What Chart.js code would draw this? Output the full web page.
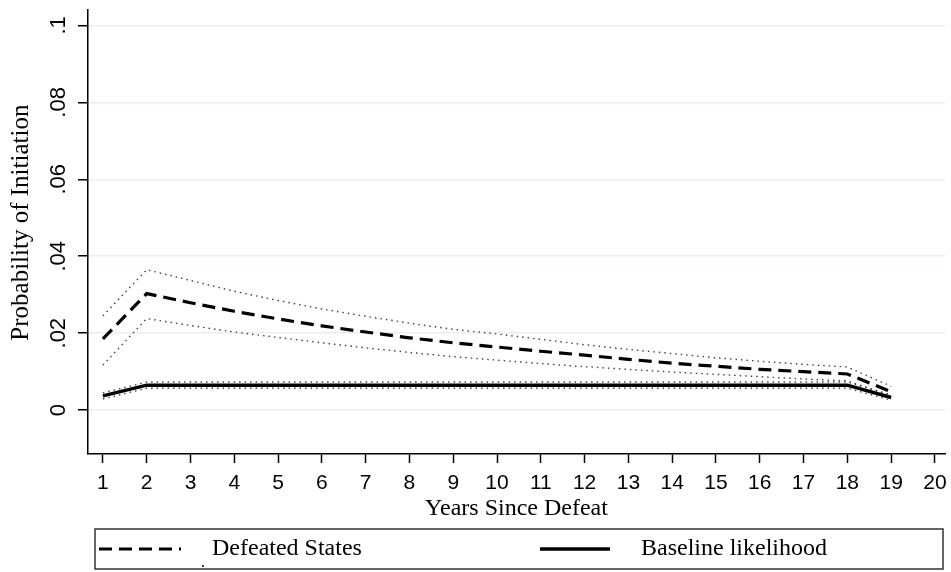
<!DOCTYPE html>
<html>
<head>
<meta charset="utf-8">
<script src="https://cdn.jsdelivr.net/npm/chart.js@4.4.1/dist/chart.umd.min.js"></script>
<style>
  html, body { margin: 0; padding: 0; background: #fff; }
  #wrap { width: 951px; height: 572px; }
</style>
</head>
<body>
<div id="wrap"><canvas id="chart" width="951" height="572"></canvas></div>
<script>
// Years since defeat (x values)
const years = [1, 2, 3, 4, 5, 6, 7, 8, 9, 10, 11, 12, 13, 14, 15, 16, 17, 18, 19];

// Predicted probability for defeated states, with its confidence band
const defeated      = [0.0185, 0.0303, 0.0279, 0.0257, 0.0237, 0.0219, 0.0203, 0.0188, 0.0175, 0.0164, 0.0153, 0.0143, 0.0132, 0.0122, 0.0114, 0.0106, 0.0100, 0.0094, 0.0048];
const defeatedUpper = [0.0245, 0.0365, 0.0337, 0.0309, 0.0285, 0.0263, 0.0244, 0.0226, 0.0210, 0.0198, 0.0184, 0.0170, 0.0158, 0.0147, 0.0136, 0.0127, 0.0119, 0.0112, 0.0062];
const defeatedLower = [0.0117, 0.0238, 0.0220, 0.0203, 0.0189, 0.0175, 0.0162, 0.0150, 0.0139, 0.0130, 0.0121, 0.0113, 0.0106, 0.0099, 0.0093, 0.0087, 0.0081, 0.0076, 0.0037];

// Baseline likelihood, with its confidence band
const baseline      = [0.0037, 0.0065, 0.0065, 0.0065, 0.0065, 0.0065, 0.0065, 0.0065, 0.0065, 0.0065, 0.0065, 0.0065, 0.0065, 0.0065, 0.0065, 0.0065, 0.0065, 0.0065, 0.0033];
const baselineUpper = [0.0045, 0.0073, 0.0073, 0.0073, 0.0073, 0.0073, 0.0073, 0.0073, 0.0073, 0.0073, 0.0073, 0.0073, 0.0073, 0.0073, 0.0073, 0.0073, 0.0073, 0.0073, 0.0040];
const baselineLower = [0.0029, 0.0057, 0.0057, 0.0057, 0.0057, 0.0057, 0.0057, 0.0057, 0.0057, 0.0057, 0.0057, 0.0057, 0.0057, 0.0057, 0.0057, 0.0057, 0.0057, 0.0057, 0.0026];

// Axis ticks
const xTicks = [1, 2, 3, 4, 5, 6, 7, 8, 9, 10, 11, 12, 13, 14, 15, 16, 17, 18, 19, 20];
const yTicks = [0, 0.02, 0.04, 0.06, 0.08, 0.1];
const yTickLabels = ['0', '.02', '.04', '.06', '.08', '.1'];

const sansFamily = "'Liberation Sans', Arial, sans-serif";
const serifFamily = "'Liberation Serif', 'Times New Roman', serif";
const serifFont = { family: serifFamily, size: 24 };

const toPoints = arr => arr.map((v, i) => ({ x: years[i], y: v }));

function ciLine(data) {
  return {
    data: toPoints(data),
    borderColor: '#444',
    borderWidth: 1.4,
    borderDash: [1.5, 4],
    pointRadius: 0,
    tension: 0,
    fill: false,
    order: 0,
    inLegend: false
  };
}

// Legend with a framed box, like the Stata one
const boxLegend = {
  id: 'boxLegend',
  afterDraw(chart) {
    const ctx = chart.ctx;
    ctx.save();
    ctx.strokeStyle = '#333';
    ctx.lineWidth = 1.5;
    ctx.strokeRect(95, 529, 848, 40);

    const items = chart.data.datasets.filter(d => d.inLegend);
    const slots = [{ x1: 99, x2: 181, tx: 212 }, { x1: 540, x2: 610, tx: 641 }];
    const yMid = 549;
    ctx.font = serifFont.size + 'px ' + serifFont.family;
    ctx.fillStyle = '#000';
    ctx.textBaseline = 'middle';
    items.forEach((d, i) => {
      const s = slots[i];
      ctx.beginPath();
      ctx.setLineDash(d.borderDash || []);
      ctx.lineWidth = d.borderWidth;
      ctx.strokeStyle = d.borderColor;
      ctx.moveTo(s.x1, yMid);
      ctx.lineTo(s.x2, yMid);
      ctx.stroke();
      ctx.setLineDash([]);
      ctx.fillText(d.label, s.tx, yMid);
    });
    // stray dot under the first label in the original
    ctx.font = '16px ' + serifFamily;
    ctx.fillText('.', 201, 563);
    ctx.restore();
  }
};

new Chart(document.getElementById('chart').getContext('2d'), {
  type: 'line',
  data: {
    datasets: [
      ciLine(defeatedUpper),
      ciLine(defeatedLower),
      ciLine(baselineUpper),
      ciLine(baselineLower),
      {
        label: 'Defeated States',
        data: toPoints(defeated),
        borderColor: '#000',
        borderWidth: 3.2,
        borderDash: [13, 7],
        pointRadius: 0,
        tension: 0,
        fill: false,
        order: 1,
        inLegend: true
      },
      {
        label: 'Baseline likelihood',
        data: toPoints(baseline),
        borderColor: '#000',
        borderWidth: 3.5,
        pointRadius: 0,
        tension: 0,
        fill: false,
        order: 1,
        inLegend: true
      }
    ]
  },
  options: {
    responsive: false,
    animation: false,
    devicePixelRatio: 1,
    layout: { padding: { top: 10, right: 6, bottom: 45, left: 0 } },
    plugins: {
      legend: { display: false },
      tooltip: { enabled: false }
    },
    scales: {
      x: {
        type: 'linear',
        min: 0.66,
        max: 20.23,
        afterBuildTicks: s => { s.ticks = xTicks.map(v => ({ value: v })); },
        afterFit: s => { s.height = 73; s.paddingLeft = 0; s.paddingRight = 0; },
        border: { color: '#000', width: 1.5 },
        grid: { drawOnChartArea: false, tickColor: '#000', tickLength: 9, tickWidth: 1.5 },
        ticks: {
          font: { family: sansFamily, size: 21 },
          color: '#000',
          padding: 8,
          maxRotation: 0,
          autoSkip: false,
          callback: (v, i) => String(xTicks[i])
        },
        title: {
          display: true,
          text: 'Years Since Defeat',
          font: serifFont,
          color: '#000',
          padding: { top: 0, bottom: 4 }
        }
      },
      y: {
        min: -0.0114,
        max: 0.104,
        afterBuildTicks: s => { s.ticks = yTicks.map(v => ({ value: v })); },
        afterFit: s => { s.width = 88; s.paddingTop = 0; s.paddingBottom = 0; },
        border: { color: '#000', width: 1.5 },
        grid: { color: '#e6eff1', lineWidth: 1.5, tickColor: '#000', tickLength: 10, tickWidth: 1.5 },
        ticks: {
          font: { family: sansFamily, size: 22 },
          color: '#000',
          minRotation: 90,
          maxRotation: 90,
          crossAlign: 'center',
          padding: 4,
          callback: (v, i) => yTickLabels[i]
        },
        title: {
          display: true,
          // leading spaces nudge the centred title up a little, as in the original
          text: '   Probability of Initiation',
          font: { family: serifFamily, size: 25 },
          color: '#000',
          padding: { top: 6, bottom: 0 }
        }
      }
    }
  },
  plugins: [boxLegend]
});
</script>
</body>
</html>
